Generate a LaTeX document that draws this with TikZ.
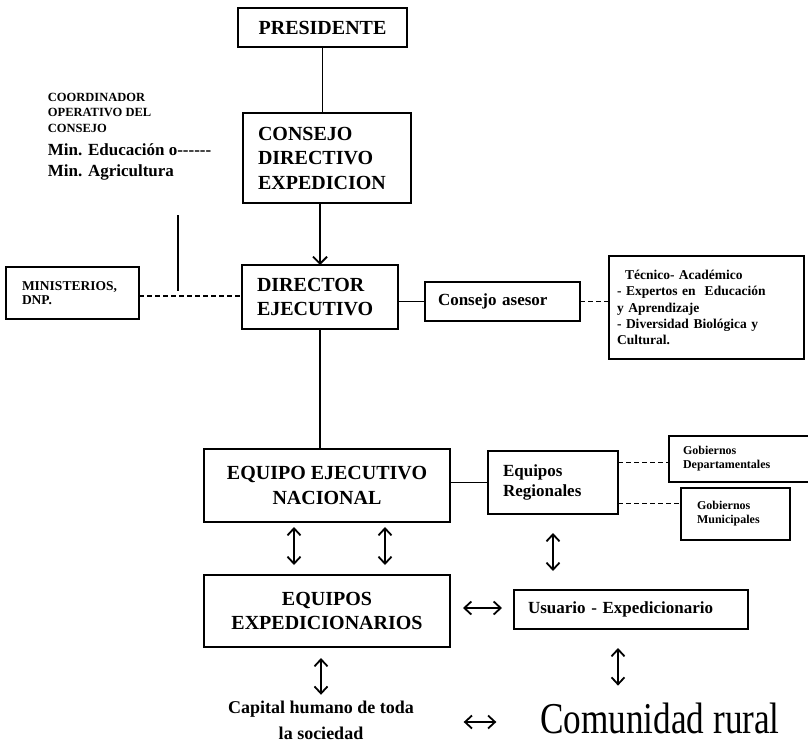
\documentclass[tikz,border=0pt]{standalone}
\usepackage{fontspec}
\setmainfont{Liberation Serif}
\newfontfamily\ruralfont{Liberation Serif}[FakeStretch=0.8]
\usetikzlibrary{arrows.meta}

\begin{document}
\begin{tikzpicture}[x=1pt,y=-1pt,line width=1.8pt,
    caja/.style={draw,line width=2pt,inner sep=0pt,outer sep=0pt},
    izq/.style={align=left},
    grande/.style={font=\fontsize{20}{24.5}\selectfont\bfseries},
    media/.style={font=\fontsize{17}{20}\selectfont\bfseries},
    mini/.style={font=\fontsize{12}{14}\selectfont\bfseries},
    punteada/.style={dash pattern=on 5pt off 3pt},
    flecha/.style={-{Straight Barb[length=7pt,width=14pt]}},
    doble/.style={{Straight Barb[length=7pt,width=13pt]}-{Straight Barb[length=7pt,width=13pt]}}]
\useasboundingbox (0,0) rectangle (808,744);
\node[caja,minimum width=169pt,minimum height=39pt,grande] (pres) at (322.5,27.5) {PRESIDENTE};
\node[caja,izq,text width=138pt,inner xsep=15pt,minimum height=90pt,grande] (cons) at (327,158) {CONSEJO\\DIRECTIVO\\EXPEDICION};
\node[caja,izq,text width=126pt,inner xsep=15pt,minimum height=64pt,grande] (dir) at (320,297) {DIRECTOR\\EJECUTIVO};
\node[caja,izq,text width=101pt,inner xsep=16pt,minimum height=52pt,font=\fontsize{13.5}{13.5}\selectfont\bfseries] (min) at (72.5,293) {MINISTERIOS,\\DNP.};
\node[caja,izq,text width=129pt,inner xsep=13pt,minimum height=39pt,media] (ases) at (502.5,301.5) {Consejo asesor};
\node[caja,izq,text width=179pt,inner xsep=8pt,minimum height=103pt,font=\fontsize{13.5}{16.3}\selectfont\bfseries] (tec) at (706.5,307.5) {\hspace*{8pt}Técnico- Académico\\- Expertos en \ Educación\\y Aprendizaje\\- Diversidad Biológica y\\Cultural.};
\node[anchor=north west,inner sep=0pt,align=left,font=\fontsize{12.5}{15.5}\selectfont\bfseries] (coordtit) at (47,92) {COORDINADOR\\OPERATIVO DEL\\CONSEJO};
\node[anchor=north west,inner sep=0pt,align=left,font=\fontsize{17}{21}\selectfont\bfseries] (coordmin) at (47,143) {Min. Educación o-{}-{}-{}-{}-{}-\\Min. Agricultura};
\coordinate (cola) at (178,215);
\node[caja,minimum width=246pt,minimum height=73pt,align=center,grande] (eqn) at (327,485.5) {EQUIPO EJECUTIVO\\NACIONAL};
\node[caja,izq,text width=100pt,inner xsep=15pt,minimum height=63pt,media] (reg) at (553,482.5) {Equipos\\Regionales};
\node[caja,izq,text width=118pt,inner xsep=14pt,minimum height=46pt,mini] (dep) at (742,459) {Gobiernos\\Departamentales};
\node[caja,izq,text width=77pt,inner xsep=16pt,minimum height=52pt,mini] (mun) at (735.5,514) {Gobiernos\\Municipales};
\node[caja,minimum width=246pt,minimum height=72pt,align=center,grande] (exp) at (327,611) {EQUIPOS\\EXPEDICIONARIOS};
\node[caja,izq,text width=206pt,inner xsep=14pt,minimum height=39pt,media] (usu) at (631,609.5) {Usuario - Expedicionario};
\node[inner sep=0pt,align=center,font=\fontsize{18}{26}\selectfont\bfseries] (cap) at (321,720) {Capital humano de toda\\la sociedad};
\node[inner sep=0pt,font=\fontsize{44}{44}\ruralfont] (com) at (660,718) {Comunidad rural};
\draw (pres.south) -- (pres.south |- cons.north);
\draw[flecha] (dir.north |- cons.south) -- (dir.north);
\draw (dir.south) -- (dir.south |- eqn.north);
\draw[punteada] ([yshift=-3pt]min.east) -- ([yshift=-3pt]min.east -| dir.west);
\draw (cola) -- ([yshift=2pt]cola |- min.east);
\draw (dir.east |- ases.west) -- (ases.west);
\draw[punteada] (ases.east) -- (ases.east -| tec.west);
\draw (eqn.east |- reg.west) -- (reg.west);
\draw[punteada] ([yshift=20pt]reg.east) -- ([yshift=20pt]reg.east -| dep.west);
\draw[punteada] ([yshift=-21pt]reg.east) -- ([yshift=-21pt]reg.east -| mun.west);
\draw[doble,shorten <=5pt,shorten >=10pt] ([xshift=-33pt]eqn.south) -- ([xshift=-33pt]exp.north);
\draw[doble,shorten <=5pt,shorten >=10pt] ([xshift=58pt]eqn.south) -- ([xshift=58pt]exp.north);
\draw[doble,shorten <=19pt,shorten >=19pt] (reg.south) -- (reg.south |- usu.north);
\draw[doble,shorten <=13pt,shorten >=12pt] ([yshift=3pt]exp.east) -- ([yshift=3pt]exp.east -| usu.west);
\draw[doble,shorten <=11pt,shorten >=5pt] (cap.north |- exp.south) -- (cap.north);
\draw[doble,shorten <=19pt,shorten >=16pt] ([xshift=-13pt]usu.south) -- ([xshift=-13pt]usu.south |- com.north);
\draw[doble,shorten <=49pt,shorten >=43pt] ([yshift=-2pt]cap.east) -- ([yshift=-2pt]cap.east -| com.west);
\end{tikzpicture}
\end{document}
